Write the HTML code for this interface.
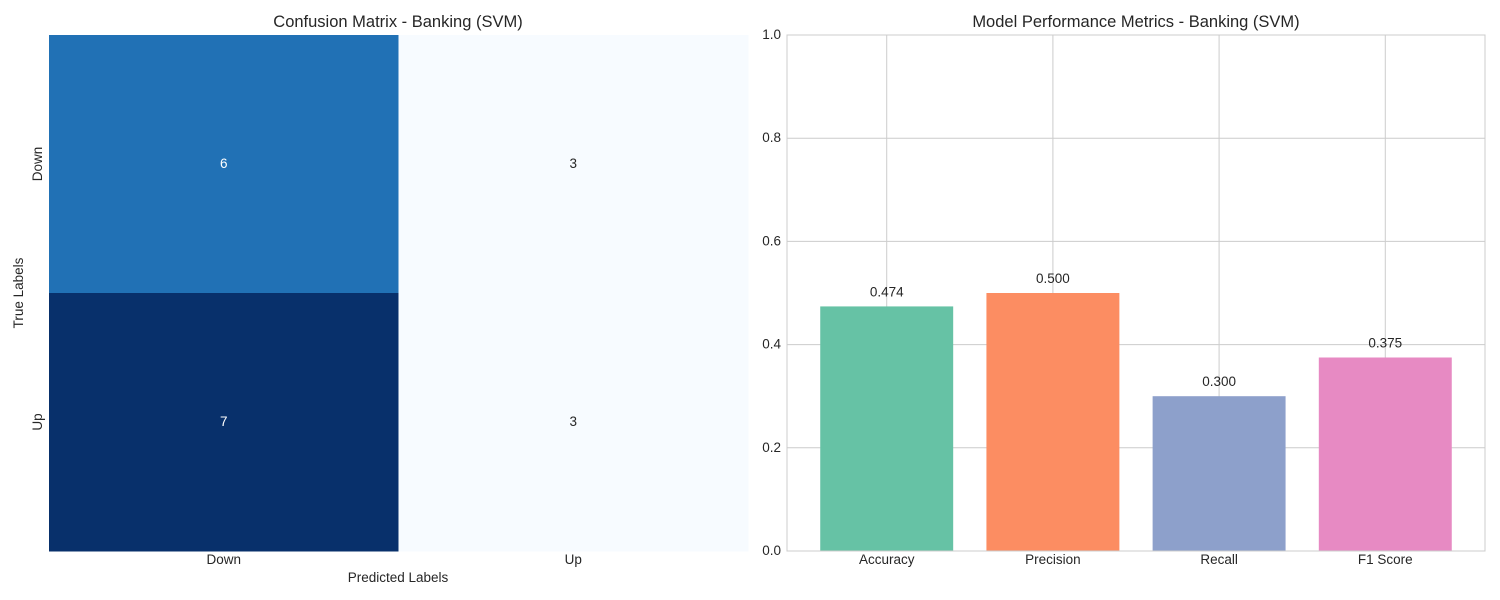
<!DOCTYPE html>
<html><head><meta charset="utf-8">
<style>
html,body{margin:0;padding:0;background:#fff;}
svg{display:block;font-family:"Liberation Sans","DejaVu Sans",sans-serif;}
</style></head>
<body>
<svg id="chart" width="1500" height="600" viewBox="0 0 1500 600" xmlns="http://www.w3.org/2000/svg">
<g id="left"></g>
<g id="right"></g>
</svg>
<script>
const cmLabels = ["Down", "Up"];
const cmValues = [[6, 3], [7, 3]];
const metricNames = ["Accuracy", "Precision", "Recall", "F1 Score"];
const metricValues = [0.474, 0.500, 0.300, 0.375];
const metricColors = ["#66c2a5", "#fc8d62", "#8da0cb", "#e78ac3"];
const yTicks = [0.0, 0.2, 0.4, 0.6, 0.8, 1.0];

const NS = "http://www.w3.org/2000/svg";
const FS = 13.5, TFS = 16.5;
function mk(tag, attrs, parent, text) {
  const e = document.createElementNS(NS, tag);
  for (const k in attrs) e.setAttribute(k, attrs[k]);
  if (text !== undefined) e.textContent = text;
  parent.appendChild(e);
  return e;
}
const left = document.getElementById("left");
const right = document.getElementById("right");

// ---- Heatmap ----
const hx0 = 49, hx1 = 748, hy0 = 35, hy1 = 551;
const n = cmLabels.length;
const cw = (hx1 - hx0) / n, ch = (hy1 - hy0) / n;
const flat = cmValues.flat();
const vmin = Math.min(...flat), vmax = Math.max(...flat);
const stops = [[247,251,255],[222,235,247],[198,219,239],[158,202,225],[107,174,214],[66,146,198],[33,113,181],[8,81,156],[8,48,107]];
function blues(t) {
  t = Math.max(0, Math.min(1, t)) * (stops.length - 1);
  const i = Math.min(Math.floor(t), stops.length - 2), f = t - i;
  const c = stops[i].map((v, k) => Math.round(v + (stops[i + 1][k] - v) * f));
  return { css: "rgb(" + c.join(",") + ")", lum: (0.299 * c[0] + 0.587 * c[1] + 0.114 * c[2]) };
}
for (let r = 0; r < n; r++) {
  for (let c = 0; c < n; c++) {
    const v = cmValues[r][c];
    const col = blues((v - vmin) / (vmax - vmin));
    const cell = mk("rect", { x: hx0 + c * cw, y: hy0 + r * ch, width: cw + 0.5, height: ch + 0.5, fill: col.css }, left);
    
    
    const t = mk("text", { x: hx0 + (c + 0.5) * cw, y: hy0 + (r + 0.5) * ch + 4, "text-anchor": "middle", "font-size": FS, fill: col.lum < 128 ? "#fff" : "#262626" }, left, String(v));
    
    
  }
}
cmLabels.forEach((lab, i) => {
  const xt = mk("text", { x: hx0 + (i + 0.5) * cw, y: 564, "text-anchor": "middle", "font-size": FS, fill: "#262626" }, left, lab);
  
  
  const yy = hy0 + (i + 0.5) * ch;
  const yt = mk("text", { x: 42, y: yy, "text-anchor": "middle", "font-size": FS, fill: "#262626", transform: "rotate(-90 42 " + yy + ")" }, left, lab);
  
  
});
let e;
e = mk("text", { x: 398, y: 27, "text-anchor": "middle", "font-size": TFS, fill: "#262626" }, left, "Confusion Matrix - Banking (SVM)");
 
e = mk("text", { x: 398, y: 582, "text-anchor": "middle", "font-size": FS, fill: "#262626" }, left, "Predicted Labels");
 
e = mk("text", { x: 23, y: 293, "text-anchor": "middle", "font-size": FS, fill: "#262626", transform: "rotate(-90 23 293)" }, left, "True Labels");
 

// ---- Bar chart ----
const bx0 = 787, bx1 = 1485, by0 = 35, by1 = 551;
const xScale = i => bx0 + (i + 0.6) * (bx1 - bx0) / (metricNames.length + 0.2);
const bw = 0.8 * (bx1 - bx0) / (metricNames.length + 0.2);
const yScale = v => by1 - v * (by1 - by0);
yTicks.forEach(t => {
  const g = mk("line", { x1: bx0, x2: bx1, y1: yScale(t), y2: yScale(t), stroke: "#cccccc", "stroke-width": 1 }, right);
   
  const l = mk("text", { x: bx0 - 6, y: yScale(t) + 4, "text-anchor": "end", "font-size": FS, fill: "#262626" }, right, t.toFixed(1));
   
});
metricNames.forEach((m, i) => {
  const g = mk("line", { x1: xScale(i), x2: xScale(i), y1: by0, y2: by1, stroke: "#cccccc", "stroke-width": 1 }, right);
   
});
metricNames.forEach((m, i) => {
  const v = metricValues[i];
  const b = mk("rect", { x: xScale(i) - bw / 2, y: yScale(v), width: bw, height: yScale(0) - yScale(v), fill: metricColors[i] }, right);
  
  
  const vl = mk("text", { x: xScale(i), y: yScale(v) - 10, "text-anchor": "middle", "font-size": FS, fill: "#262626" }, right, v.toFixed(3));
   
  const xl = mk("text", { x: xScale(i), y: 564, "text-anchor": "middle", "font-size": FS, fill: "#262626" }, right, m);
   
});
e = mk("rect", { x: bx0, y: by0, width: bx1 - bx0, height: by1 - by0, fill: "none", stroke: "#cccccc", "stroke-width": 1 }, right);
 
e = mk("text", { x: (bx0 + bx1) / 2, y: 27, "text-anchor": "middle", "font-size": TFS, fill: "#262626" }, right, "Model Performance Metrics - Banking (SVM)");
 
</script>
</body></html>
